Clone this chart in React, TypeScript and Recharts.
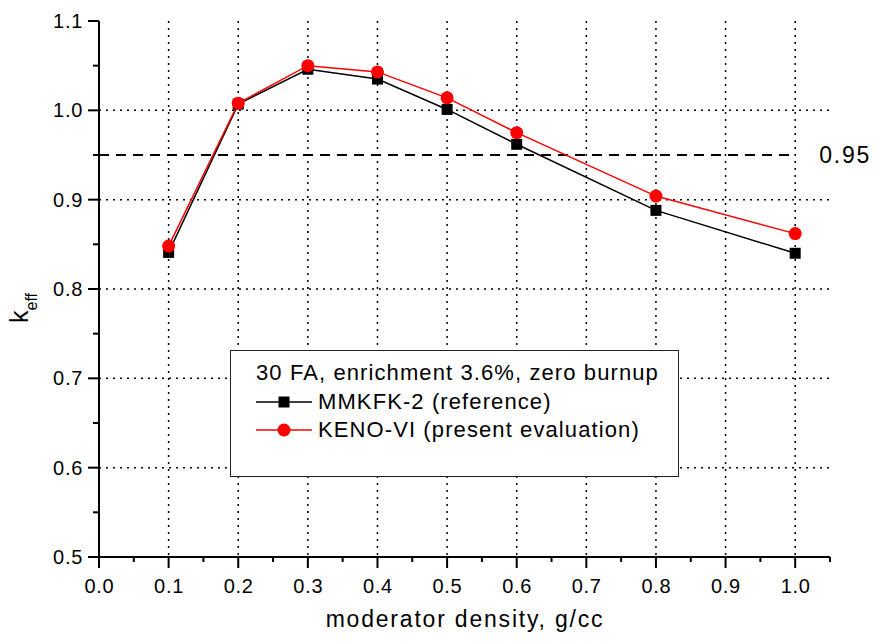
import {
	CartesianGrid,
	Legend,
	Line,
	LineChart,
	ReferenceLine,
	XAxis,
	YAxis,
} from "recharts";

const densities = [0.1, 0.2, 0.3, 0.4, 0.5, 0.6, 0.8, 1.0];
const mmkfk = [0.841, 1.007, 1.046, 1.035, 1.001, 0.962, 0.888, 0.84];
const keno = [0.848, 1.008, 1.05, 1.043, 1.014, 0.975, 0.904, 0.862];

const xTicks = [
	0, 0.05, 0.1, 0.15, 0.2, 0.25, 0.3, 0.35, 0.4, 0.45, 0.5, 0.55, 0.6, 0.65,
	0.7, 0.75, 0.8, 0.85, 0.9, 0.95, 1.0, 1.05,
];
const xMajor = [0, 0.1, 0.2, 0.3, 0.4, 0.5, 0.6, 0.7, 0.8, 0.9, 1.0];
const yTicks = [
	0.5, 0.55, 0.6, 0.65, 0.7, 0.75, 0.8, 0.85, 0.9, 0.95, 1.0, 1.05, 1.1,
];
const yMajor = [0.5, 0.6, 0.7, 0.8, 0.9, 1.0, 1.1];
const gridY = [0.6, 0.7, 0.8, 0.9, 1.0];
const gridX = [0.1, 0.2, 0.3, 0.4, 0.5, 0.6, 0.7, 0.8, 0.9, 1.0];
const limit = 0.95;

const FONT = "'Liberation Sans', Arial, sans-serif";

const data = densities.map((d, i) => ({ d, mmkfk: mmkfk[i], keno: keno[i] }));

const isMajor = (list: number[], v: number) =>
	list.some((m) => Math.abs(m - v) < 1e-9);

function XTick(props: any) {
	const { x, y, payload } = props;
	const major = isMajor(xMajor, payload.value);
	return (
		<g>
			<line x1={x} x2={x} y1={y} y2={y + (major ? 11 : 5)} stroke="#000" strokeWidth={2} />
			{major && (
				<text
					x={x + 0.4}
					y={y + 36}
					textAnchor="middle"
					fontSize={20}
					letterSpacing={0.7}
					fontFamily={FONT}
					fill="#000"
				>
					{payload.value.toFixed(1)}
				</text>
			)}
		</g>
	);
}

function YTick(props: any) {
	const { x, y, payload } = props;
	const major = isMajor(yMajor, payload.value);
	return (
		<g>
			<line x1={x - (major ? 11 : 6)} x2={x} y1={y} y2={y} stroke="#000" strokeWidth={2} />
			{major && (
				<text
					x={x - 16}
					y={y + 7}
					textAnchor="end"
					fontSize={20}
					letterSpacing={0.7}
					fontFamily={FONT}
					fill="#000"
				>
					{payload.value.toFixed(1)}
				</text>
			)}
		</g>
	);
}

function SquareDot(props: any) {
	const { cx, cy, index } = props;
	return <rect key={`sq-${index}`} x={cx - 5.5} y={cy - 5.5} width={11} height={11} fill="#000" />;
}

function CircleDot(props: any) {
	const { cx, cy, index } = props;
	return <circle key={`ci-${index}`} cx={cx} cy={cy} r={6.5} fill="#ff0000" />;
}

function LegendBox() {
	const row = (color: string, marker: "square" | "circle", label: string) => (
		<div style={{ display: "flex", alignItems: "center", height: 28.5 }}>
			<svg width={56} height={20} style={{ marginRight: 6 }}>
				<line x1={0} x2={56} y1={10} y2={10} stroke={color} strokeWidth={1.5} />
				{marker === "square" ? (
					<rect x={22.5} y={4.5} width={11} height={11} fill={color} />
				) : (
					<circle cx={28} cy={10} r={6.5} fill={color} />
				)}
			</svg>
			<span>{label}</span>
		</div>
	);
	return (
		<div
			style={{
				boxSizing: "border-box",
				width: 449,
				height: 127,
				border: "1.5px solid #222",
				background: "#fff",
				padding: "8px 0 0 25px",
				fontFamily: FONT,
				fontSize: 22,
				letterSpacing: 1.1,
				color: "#000",
				lineHeight: "28px",
				whiteSpace: "nowrap",
			}}
		>
			<div style={{ height: 28.5 }}>30 FA, enrichment 3.6%, zero burnup</div>
			{row("#000", "square", "MMKFK-2 (reference)")}
			{row("#ff0000", "circle", "KENO-VI (present evaluation)")}
		</div>
	);
}

export default function App() {
	return (
		<div style={{ position: "absolute", left: 0, top: 0, background: "#fff" }}>
			<LineChart
				width={877}
				height={644}
				data={data}
				margin={{ top: 21, right: 47, left: 0, bottom: 0 }}
			>
				<CartesianGrid
					stroke="#000"
					strokeWidth={1.5}
					strokeDasharray="2 5"
					horizontalValues={gridY}
					verticalValues={gridX}
				/>
				<XAxis
					dataKey="d"
					type="number"
					domain={[0, 1.05]}
					ticks={xTicks}
					interval={0}
					height={87}
					tickSize={0}
					tickMargin={0}
					tickLine={false}
					axisLine={{ stroke: "#000", strokeWidth: 2 }}
					tick={<XTick />}
					label={{
						content: () => (
							<text
								x={465}
								y={627}
								textAnchor="middle"
								fontSize={23}
								letterSpacing={1.8}
								fontFamily={FONT}
								fill="#000"
							>
								moderator density, g/cc
							</text>
						),
					}}
				/>
				<YAxis
					type="number"
					domain={[0.5, 1.1]}
					ticks={yTicks}
					interval={0}
					width={99}
					tickSize={0}
					tickMargin={0}
					tickLine={false}
					allowDataOverflow
					axisLine={{ stroke: "#000", strokeWidth: 2 }}
					tick={<YTick />}
					label={{
						content: () => (
							<text
								x={28}
								y={308}
								transform="rotate(-90, 28, 308)"
								textAnchor="middle"
								fontSize={25}
								fontFamily={FONT}
								fill="#000"
							>
								k
								<tspan fontSize={16} dy={9}>
									eff
								</tspan>
							</text>
						),
					}}
				/>
				<ReferenceLine
					segment={[
						{ x: 0, y: limit },
						{ x: 1.0, y: limit },
					]}
					stroke="#000"
					strokeWidth={2}
					strokeDasharray="10 7"
					label={{
						value: "0.95",
						position: "right",
						offset: 24,
						fill: "#000",
						fontSize: 23,
						letterSpacing: 1.8,
						fontFamily: FONT,
					}}
				/>
				<Line
					type="linear"
					dataKey="mmkfk"
					name="MMKFK-2 (reference)"
					stroke="#000"
					strokeWidth={1.5}
					dot={SquareDot}
					isAnimationActive={false}
				/>
				<Line
					type="linear"
					dataKey="keno"
					name="KENO-VI (present evaluation)"
					stroke="#ff0000"
					strokeWidth={1.5}
					dot={CircleDot}
					isAnimationActive={false}
				/>
				<Legend
					layout="horizontal"
					verticalAlign="middle"
					align="center"
					content={() => <LegendBox />}
					wrapperStyle={{ left: 230, top: 350, width: 449, height: 127 }}
				/>
			</LineChart>
		</div>
	);
}
